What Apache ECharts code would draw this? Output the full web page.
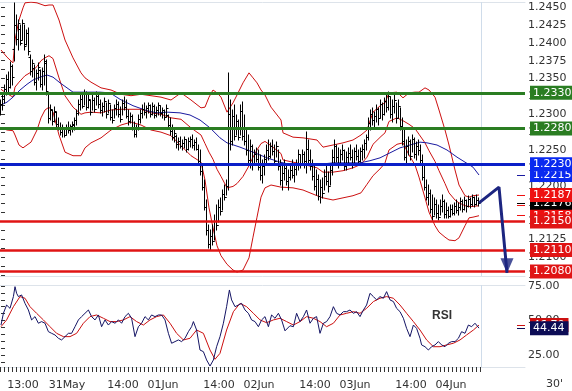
<!DOCTYPE html>
<html><head><meta charset="utf-8">
<script src="https://cdn.jsdelivr.net/npm/echarts@6/dist/echarts.min.js"></script>
<style>html,body{margin:0;padding:0;background:#fff}#c{width:572px;height:391px}</style>
</head><body><div id="c"></div>
<script>
// ---- 30-minute bars (index 0 = 30May 07:30) ----
const barOpen = [1.2302,1.2315,1.2322,1.2335,1.2350,1.2338,1.2368,1.2392,1.2425,1.2405,
1.2420,1.2404,1.2428,1.2398,1.2414,1.2380,1.2360,1.2365,1.2345,1.2358,
1.2362,1.2342,1.2360,1.2372,1.2330,1.2295,1.2306,1.2290,1.2303,1.2286,
1.2281,1.2275,1.2279,1.2271,1.2282,1.2278,1.2283,1.2285,1.2292,1.2302,
1.2315,1.2322,1.2312,1.2328,1.2310,1.2320,1.2303,1.2320,1.2308,1.2326,
1.2314,1.2306,1.2312,1.2318,1.2300,1.2316,1.2296,1.2292,1.2309,1.2314,
1.2300,1.2294,1.2316,1.2310,1.2298,1.2290,1.2297,1.2281,1.2272,1.2280,
1.2294,1.2302,1.2308,1.2303,1.2309,1.2313,1.2300,1.2312,1.2299,1.2306,
1.2313,1.2302,1.2306,1.2296,1.2299,1.2285,1.2276,1.2268,1.2270,1.2258,
1.2262,1.2256,1.2260,1.2265,1.2251,1.2262,1.2266,1.2257,1.2261,1.2252,
1.2234,1.2220,1.2198,1.2170,1.2138,1.2118,1.2130,1.2122,1.2150,1.2145,
1.2170,1.2165,1.2188,1.2184,1.2200,1.2300,1.2262,1.2298,1.2270,1.2290,
1.2268,1.2305,1.2270,1.2262,1.2250,1.2236,1.2255,1.2230,1.2244,1.2238,
1.2226,1.2215,1.2228,1.2238,1.2250,1.2242,1.2255,1.2248,1.2235,1.2255,
1.2228,1.2208,1.2218,1.2225,1.2206,1.2212,1.2222,1.2215,1.2224,1.2230,
1.2244,1.2232,1.2245,1.2234,1.2252,1.2236,1.2228,1.2214,1.2200,1.2210,
1.2186,1.2198,1.2190,1.2214,1.2206,1.2200,1.2222,1.2240,1.2255,1.2240,
1.2230,1.2245,1.2250,1.2228,1.2240,1.2246,1.2240,1.2232,1.2248,1.2242,
1.2235,1.2248,1.2252,1.2260,1.2268,1.2288,1.2300,1.2292,1.2298,1.2308,
1.2295,1.2315,1.2300,1.2318,1.2310,1.2325,1.2300,1.2312,1.2320,1.2295,
1.2312,1.2284,1.2262,1.2240,1.2255,1.2262,1.2242,1.2266,1.2245,1.2256,
1.2250,1.2236,1.2212,1.2198,1.2184,1.2190,1.2168,1.2158,1.2175,1.2162,
1.2156,1.2172,1.2178,1.2160,1.2166,1.2158,1.2168,1.2162,1.2172,1.2166,
1.2170,1.2178,1.2168,1.2180,1.2172,1.2182,1.2174,1.2184,1.2175,1.2180];
const barHigh = [1.2320,1.2327,1.2341,1.2355,1.2359,1.2373,1.2369,1.2456,1.2439,1.2432,
1.2425,1.2432,1.2425,1.2418,1.2421,1.2383,1.2376,1.2369,1.2362,1.2372,
1.2362,1.2365,1.2383,1.2376,1.2330,1.2313,1.2306,1.2310,1.2303,1.2295,
1.2288,1.2285,1.2281,1.2285,1.2289,1.2285,1.2289,1.2295,1.2306,1.2320,
1.2330,1.2327,1.2334,1.2331,1.2327,1.2320,1.2327,1.2323,1.2331,1.2327,
1.2320,1.2316,1.2323,1.2316,1.2320,1.2313,1.2306,1.2313,1.2320,1.2317,
1.2310,1.2320,1.2324,1.2320,1.2306,1.2302,1.2299,1.2289,1.2285,1.2299,
1.2306,1.2313,1.2316,1.2312,1.2316,1.2313,1.2316,1.2313,1.2310,1.2316,
1.2312,1.2309,1.2306,1.2313,1.2299,1.2295,1.2285,1.2278,1.2271,1.2267,
1.2268,1.2264,1.2268,1.2264,1.2267,1.2268,1.2271,1.2264,1.2267,1.2257,
1.2250,1.2229,1.2208,1.2180,1.2145,1.2138,1.2145,1.2159,1.2173,1.2180,
1.2183,1.2194,1.2201,1.2208,1.2358,1.2320,1.2306,1.2313,1.2299,1.2292,
1.2313,1.2317,1.2299,1.2278,1.2271,1.2264,1.2257,1.2250,1.2253,1.2250,
1.2243,1.2236,1.2243,1.2257,1.2264,1.2260,1.2264,1.2257,1.2261,1.2250,
1.2236,1.2229,1.2236,1.2229,1.2222,1.2229,1.2236,1.2229,1.2236,1.2250,
1.2243,1.2250,1.2247,1.2275,1.2264,1.2250,1.2236,1.2229,1.2222,1.2215,
1.2208,1.2211,1.2222,1.2229,1.2219,1.2229,1.2250,1.2264,1.2257,1.2253,
1.2250,1.2257,1.2250,1.2247,1.2253,1.2257,1.2250,1.2253,1.2257,1.2250,
1.2253,1.2257,1.2264,1.2271,1.2295,1.2306,1.2309,1.2303,1.2313,1.2309,
1.2320,1.2316,1.2323,1.2327,1.2331,1.2324,1.2320,1.2327,1.2316,1.2320,
1.2309,1.2295,1.2278,1.2264,1.2268,1.2264,1.2271,1.2267,1.2261,1.2264,
1.2257,1.2243,1.2229,1.2208,1.2201,1.2194,1.2187,1.2183,1.2180,1.2173,
1.2180,1.2187,1.2180,1.2176,1.2170,1.2173,1.2173,1.2176,1.2180,1.2176,
1.2183,1.2180,1.2184,1.2180,1.2186,1.2183,1.2187,1.2184,1.2187,1.2183];
const barLow = [1.2299,1.2306,1.2316,1.2327,1.2331,1.2337,1.2341,1.2375,1.2397,1.2390,
1.2397,1.2404,1.2390,1.2397,1.2383,1.2355,1.2352,1.2341,1.2334,1.2348,
1.2338,1.2334,1.2341,1.2327,1.2288,1.2292,1.2285,1.2289,1.2282,1.2278,
1.2271,1.2268,1.2268,1.2271,1.2274,1.2271,1.2275,1.2278,1.2285,1.2299,
1.2306,1.2309,1.2313,1.2306,1.2309,1.2299,1.2306,1.2303,1.2313,1.2309,
1.2302,1.2298,1.2303,1.2295,1.2302,1.2292,1.2288,1.2295,1.2299,1.2296,
1.2289,1.2299,1.2306,1.2295,1.2285,1.2288,1.2278,1.2268,1.2268,1.2278,
1.2288,1.2295,1.2299,1.2295,1.2302,1.2296,1.2299,1.2295,1.2296,1.2299,
1.2298,1.2295,1.2292,1.2296,1.2281,1.2271,1.2264,1.2261,1.2253,1.2250,
1.2253,1.2250,1.2253,1.2247,1.2250,1.2254,1.2253,1.2250,1.2250,1.2229,
1.2215,1.2194,1.2166,1.2131,1.2113,1.2110,1.2117,1.2124,1.2138,1.2149,
1.2159,1.2166,1.2180,1.2187,1.2194,1.2250,1.2257,1.2264,1.2271,1.2264,
1.2271,1.2264,1.2257,1.2243,1.2229,1.2225,1.2222,1.2229,1.2233,1.2222,
1.2208,1.2204,1.2215,1.2229,1.2236,1.2239,1.2243,1.2229,1.2240,1.2222,
1.2201,1.2194,1.2208,1.2201,1.2194,1.2208,1.2211,1.2205,1.2215,1.2222,
1.2225,1.2229,1.2225,1.2218,1.2229,1.2222,1.2208,1.2194,1.2187,1.2180,
1.2176,1.2183,1.2194,1.2201,1.2191,1.2201,1.2215,1.2229,1.2233,1.2225,
1.2229,1.2236,1.2222,1.2222,1.2229,1.2236,1.2225,1.2232,1.2236,1.2229,
1.2233,1.2236,1.2239,1.2250,1.2264,1.2278,1.2285,1.2281,1.2289,1.2285,
1.2295,1.2292,1.2299,1.2303,1.2306,1.2295,1.2289,1.2302,1.2288,1.2295,
1.2278,1.2257,1.2236,1.2232,1.2243,1.2236,1.2247,1.2239,1.2236,1.2243,
1.2232,1.2208,1.2194,1.2180,1.2173,1.2162,1.2152,1.2159,1.2155,1.2152,
1.2159,1.2163,1.2155,1.2155,1.2155,1.2156,1.2159,1.2159,1.2162,1.2159,
1.2166,1.2163,1.2166,1.2163,1.2170,1.2169,1.2172,1.2170,1.2173,1.2172];
const barClose = [1.2315,1.2322,1.2335,1.2350,1.2338,1.2368,1.2352,1.2425,1.2405,1.2428,
1.2400,1.2428,1.2395,1.2414,1.2388,1.2360,1.2372,1.2345,1.2358,1.2366,
1.2342,1.2360,1.2375,1.2332,1.2295,1.2308,1.2290,1.2305,1.2286,1.2281,
1.2275,1.2280,1.2271,1.2282,1.2278,1.2283,1.2286,1.2292,1.2302,1.2315,
1.2322,1.2312,1.2328,1.2310,1.2322,1.2303,1.2320,1.2308,1.2326,1.2314,
1.2306,1.2312,1.2318,1.2300,1.2316,1.2296,1.2292,1.2309,1.2314,1.2300,
1.2294,1.2316,1.2310,1.2298,1.2290,1.2297,1.2281,1.2272,1.2280,1.2294,
1.2302,1.2308,1.2303,1.2309,1.2313,1.2300,1.2312,1.2299,1.2306,1.2313,
1.2302,1.2306,1.2296,1.2309,1.2285,1.2276,1.2268,1.2274,1.2258,1.2262,
1.2256,1.2260,1.2265,1.2251,1.2262,1.2266,1.2257,1.2261,1.2252,1.2234,
1.2220,1.2198,1.2170,1.2138,1.2118,1.2130,1.2122,1.2150,1.2145,1.2170,
1.2165,1.2188,1.2184,1.2200,1.2300,1.2262,1.2298,1.2270,1.2290,1.2268,
1.2305,1.2270,1.2262,1.2250,1.2236,1.2255,1.2230,1.2244,1.2238,1.2226,
1.2215,1.2228,1.2238,1.2250,1.2242,1.2255,1.2248,1.2235,1.2255,1.2228,
1.2208,1.2218,1.2225,1.2206,1.2212,1.2222,1.2215,1.2224,1.2230,1.2244,
1.2232,1.2245,1.2234,1.2252,1.2236,1.2228,1.2214,1.2200,1.2210,1.2186,
1.2198,1.2190,1.2214,1.2206,1.2200,1.2222,1.2240,1.2255,1.2240,1.2230,
1.2245,1.2250,1.2228,1.2240,1.2246,1.2240,1.2232,1.2248,1.2242,1.2235,
1.2248,1.2252,1.2260,1.2268,1.2288,1.2300,1.2292,1.2298,1.2308,1.2295,
1.2315,1.2300,1.2318,1.2310,1.2325,1.2300,1.2312,1.2320,1.2295,1.2312,
1.2284,1.2262,1.2240,1.2255,1.2262,1.2242,1.2266,1.2245,1.2256,1.2250,
1.2236,1.2212,1.2198,1.2184,1.2190,1.2168,1.2158,1.2175,1.2162,1.2156,
1.2172,1.2178,1.2160,1.2166,1.2158,1.2168,1.2162,1.2172,1.2166,1.2170,
1.2178,1.2168,1.2180,1.2172,1.2182,1.2174,1.2184,1.2175,1.2180,1.2176];

// ---- Bollinger bands & moving average: [bar, price] ----
const bbUpper = [[0,1.2390],[3,1.2380],[6,1.2372],[7,1.2404],[9,1.2432],[11,1.2449],[12,1.2456],[15,1.2457],[18,1.2456],[20,1.2454],[22,1.2452],[24,1.2453],[26,1.2453],[29,1.2432],[32,1.2404],[36,1.2379],[40,1.2358],[42,1.2351],[45,1.2345],[50,1.2337],[55,1.2334],[60,1.2328],[65,1.2326],[70,1.2328],[75,1.2326],[80,1.2324],[85,1.2320],[90,1.2330],[95,1.2320],[100,1.2309],[102,1.2310],[104,1.2324],[106,1.2334],[108,1.2330],[110,1.2324],[113,1.2303],[116,1.2316],[118,1.2327],[121,1.2344],[124,1.2358],[126,1.2351],[128,1.2344],[130,1.2334],[132,1.2327],[135,1.2310],[140,1.2292],[141,1.2274],[146,1.2268],[151,1.2267],[158,1.2264],[161,1.2254],[166,1.2257],[171,1.2260],[176,1.2264],[180,1.2271],[183,1.2278],[186,1.2303],[190,1.2313],[192,1.2316],[194,1.2330],[198,1.2331],[201,1.2323],[204,1.2330],[207,1.2331],[209,1.2331],[212,1.2337],[214,1.2334],[217,1.2324],[219,1.2306],[222,1.2278],[224,1.2257],[227,1.2222],[229,1.2201],[232,1.2186],[234,1.2184],[236,1.2186],[239,1.2187]];
const bbMiddle = [[0,1.2335],[3,1.2329],[6,1.2324],[7,1.2338],[9,1.2345],[11,1.2351],[12,1.2354],[15,1.2359],[18,1.2367],[20,1.2375],[22,1.2379],[24,1.2382],[26,1.2378],[29,1.2351],[32,1.2326],[36,1.2310],[40,1.2300],[42,1.2302],[45,1.2303],[50,1.2302],[55,1.2306],[60,1.2307],[65,1.2307],[70,1.2307],[75,1.2302],[80,1.2300],[85,1.2295],[90,1.2293],[95,1.2281],[100,1.2271],[102,1.2259],[104,1.2247],[106,1.2237],[108,1.2223],[110,1.2213],[113,1.2197],[116,1.2199],[118,1.2203],[121,1.2213],[124,1.2228],[126,1.2240],[128,1.2250],[130,1.2259],[132,1.2262],[135,1.2256],[140,1.2245],[141,1.2236],[146,1.2233],[151,1.2230],[158,1.2225],[161,1.2219],[166,1.2219],[171,1.2221],[176,1.2225],[180,1.2230],[183,1.2240],[186,1.2258],[190,1.2269],[192,1.2274],[194,1.2290],[198,1.2295],[201,1.2291],[204,1.2286],[207,1.2280],[209,1.2272],[212,1.2260],[214,1.2249],[217,1.2234],[219,1.2221],[222,1.2203],[224,1.2190],[227,1.2180],[229,1.2176],[232,1.2172],[234,1.2171],[236,1.2171],[239,1.2172]];
const bbLower = [[0,1.2281],[3,1.2278],[6,1.2277],[7,1.2271],[9,1.2257],[11,1.2253],[12,1.2253],[15,1.2261],[18,1.2278],[20,1.2295],[22,1.2306],[24,1.2310],[26,1.2303],[29,1.2271],[32,1.2247],[36,1.2242],[40,1.2242],[42,1.2253],[45,1.2260],[50,1.2267],[55,1.2278],[60,1.2285],[65,1.2289],[70,1.2285],[75,1.2278],[80,1.2275],[85,1.2270],[90,1.2256],[95,1.2242],[100,1.2233],[102,1.2208],[104,1.2169],[106,1.2141],[108,1.2116],[110,1.2102],[113,1.2090],[116,1.2082],[118,1.2079],[121,1.2082],[124,1.2099],[126,1.2128],[128,1.2156],[130,1.2184],[132,1.2197],[135,1.2201],[140,1.2198],[141,1.2198],[146,1.2197],[151,1.2194],[158,1.2186],[161,1.2183],[166,1.2180],[171,1.2183],[176,1.2186],[180,1.2190],[183,1.2202],[186,1.2214],[190,1.2225],[192,1.2232],[194,1.2250],[198,1.2258],[201,1.2260],[204,1.2243],[207,1.2229],[209,1.2212],[212,1.2183],[214,1.2163],[217,1.2144],[219,1.2135],[222,1.2128],[224,1.2124],[227,1.2123],[229,1.2127],[232,1.2144],[234,1.2155],[236,1.2156],[239,1.2158]];
const maSlow = [[0,1.2313],[3,1.2317],[6,1.2324],[9.5,1.2334],[13,1.2342],[16,1.2348],[19.5,1.2352],[23,1.2355],[26,1.2352],[29.5,1.2344],[33,1.2337],[36,1.2331],[39.5,1.2331],[44.5,1.2331],[49.5,1.2331],[54.5,1.2330],[59.5,1.2321],[66,1.2312],[73,1.2305],[78,1.2302],[83,1.2303],[89.5,1.2302],[94.5,1.2299],[99.5,1.2292],[104.5,1.2281],[109.5,1.2267],[113,1.2260],[119.5,1.2254],[126,1.2247],[133,1.2239],[139.5,1.2233],[146,1.2229],[153,1.2229],[159.5,1.2230],[166,1.2232],[173,1.2232],[179.5,1.2232],[184.5,1.2235],[189.5,1.2239],[194.5,1.2246],[199.5,1.2253],[204.5,1.2257],[209.5,1.2261],[213,1.2260],[218,1.2257],[223,1.2250],[228,1.2240],[232,1.2233],[236,1.2226],[239,1.2215]];

// ---- RSI panel: [bar, value] ----
const rsiLine = [[0,46.7],[1.2,55.2],[2.8,61.2],[4.5,58.8],[6.2,67.3],[7,74.5],[7.8,69.7],[8.7,67.3],[10.3,68.5],[12,62.4],[13.7,57.6],[15.3,50.4],[17,52.8],[18.7,48.0],[20.3,49.2],[22,48.0],[23.7,41.9],[25.3,40.7],[27,39.5],[28.7,37.1],[30.3,35.9],[32,38.3],[33.7,40.7],[35.3,40.7],[37,45.5],[38.7,50.4],[40.3,52.8],[42,55.2],[43.7,57.6],[45.3,52.8],[47,50.4],[48.7,54.0],[50.3,45.5],[52,50.4],[53.7,46.7],[55.3,49.2],[57,48.0],[58.7,50.4],[60.3,48.0],[62,52.8],[63.7,55.2],[65.3,51.6],[67,38.3],[68.7,45.5],[70.3,48.0],[72,52.8],[73.7,50.4],[75.3,54.0],[77,52.8],[78.7,54.0],[80.3,54.0],[82,50.4],[83.7,40.7],[85.3,33.5],[87,34.7],[88.7,35.9],[90.3,34.7],[92,37.1],[93.7,41.9],[95.3,45.5],[96.2,49.2],[97.8,43.1],[99.5,28.6],[101.2,27.4],[102.8,21.4],[104.5,17.0],[106.2,21.4],[107.8,31.0],[109.5,38.3],[111.2,48.0],[112.8,60.0],[114.2,72.1],[115.3,64.9],[117,60.0],[118.7,61.2],[120.3,62.4],[122,57.6],[123.7,55.2],[125.3,50.4],[127,49.2],[128.7,45.5],[130.3,50.4],[132,52.8],[133.7,45.5],[135.3,54.0],[137,51.6],[138.7,55.2],[140.3,50.4],[142,42.5],[144.5,46.2],[146.2,45.5],[147.8,55.2],[149.5,49.2],[151.2,52.8],[152.8,57.6],[154.5,48.0],[156.2,51.6],[157.8,52.8],[159.5,40.7],[161.2,48.0],[162.8,49.2],[164.5,52.8],[166.2,60.0],[167.8,55.2],[169.5,54.0],[171.2,56.4],[172.8,56.4],[174.5,57.6],[176.2,55.2],[177.8,56.4],[179.5,52.8],[181.2,57.6],[182.8,61.2],[184.5,69.7],[186.2,67.3],[187.8,64.9],[189.5,67.3],[191.2,66.1],[192.8,70.9],[194.5,64.9],[196.2,63.7],[197.8,58.8],[199.5,56.4],[201.2,51.6],[202.8,44.3],[204.5,38.3],[206.2,46.7],[207.8,44.3],[209.5,37.1],[210.3,32.3],[212,31.0],[213.7,28.6],[215.3,31.0],[217,32.3],[218.7,34.7],[220.3,32.3],[222,31.0],[223.7,33.5],[225.3,34.7],[227,34.7],[228.7,37.1],[230.3,41.9],[232,40.7],[233.7,46.7],[235.3,45.5],[237,48.0],[238,46.7],[239,44.44]];
const rsiSignal = [[0,45.5],[2.8,50.4],[6.2,60.0],[9.5,67.3],[12,66.1],[14.5,60.0],[17.8,55.2],[21.2,50.4],[24.5,45.5],[27.8,40.7],[31.2,38.3],[34.5,38.3],[37.8,40.7],[41.2,48.0],[44.5,52.8],[47.8,54.0],[51.2,51.6],[54.5,49.2],[57.8,49.2],[61.2,50.4],[64.5,52.8],[67.8,49.2],[71.2,46.7],[74.5,50.4],[77.8,52.8],[81.2,54.0],[84.5,48.0],[87.8,40.7],[91.2,35.9],[94.5,37.1],[97.8,43.1],[101.2,40.7],[104.5,28.6],[107,21.9],[109.5,26.2],[112.8,43.1],[116.2,56.4],[119.5,62.4],[122.8,60.0],[126.2,55.2],[129.5,50.4],[132.8,48.4],[136.2,50.4],[139.5,51.6],[142.8,49.2],[146.2,46.7],[149.5,49.2],[152.8,52.8],[156.2,51.6],[159.5,49.2],[162.8,45.5],[166.2,48.0],[169.5,54.0],[172.8,55.2],[176.2,56.4],[179.5,55.2],[182.8,58.8],[186.2,63.7],[189.5,66.1],[192.8,67.3],[196.2,66.1],[199.5,61.2],[202.8,55.2],[206.2,49.2],[209.5,43.1],[212.8,35.9],[216.2,31.0],[219.5,31.0],[222.8,32.3],[226.2,33.5],[229.5,35.9],[232.8,39.5],[236.2,43.1],[239,46.7]];

// ---- levels, forecast, ticks ----
const levelsGreen = [1.2330, 1.2280];
const levelsBlue = [1.2230];
const levelsRed = [1.2150, 1.2110, 1.2080];
const forecastPath = [[239,1.2176],[249,1.2198],[253,1.2078]];
const priceTicks = [1.2075,1.2100,1.2125,1.2150,1.2175,1.2200,1.2225,1.2250,1.2275,1.2300,1.2325,1.2350,1.2375,1.2400,1.2425,1.2450];
const rsiTicks = [25, 50, 75];
const xTickBars = [11,33,61,81,109,129,157,177,205,225];
const xTickLabels = ["13:00","31May","14:00","01Jun","14:00","02Jun","14:00","03Jun","14:00","04Jun"];

const FONT = 'DejaVu Sans';
const lastBar = barClose.length - 1;
const X_MAX = 262;
const ohlc = barOpen.map((o, i) => [i, o, barHigh[i], barLow[i], barClose[i]]);
const lastOf = a => a[a.length - 1][1];

const priceMinor = []; for (let v = 1.2075; v <= 1.24501; v += 0.00125) priceMinor.push(+v.toFixed(5));
const rsiMinor = []; for (let v = 20; v <= 75; v += 5) rsiMinor.push(v);
const xMinor = []; for (let v = 0; v <= lastBar + 1; v += 2) xMinor.push(v - 0.5);

function boxLabel(bg, text) {
  return { show: true, position: 'end', distance: 5, formatter: text, color: '#fff',
    backgroundColor: bg, padding: [2, 4, 1, 3], fontFamily: FONT, fontSize: 11 };
}
function leader(v, color, text, bg) {
  return [{ coord: [lastBar + 19, v], lineStyle: { color: color, width: 1, type: 'solid' }, label: boxLabel(bg || color, text) },
          { coord: [X_MAX, v] }];
}
function level(v, color, width, bg) {
  return [{ coord: [-0.5, v], lineStyle: { color: color, width: width, type: 'solid' }, label: boxLabel(bg || color, v.toFixed(4)) },
          { coord: [X_MAX, v] }];
}
const mlBase = { symbol: ['none', 'none'], silent: true, animation: false, precision: 6 };

const chart = echarts.init(document.getElementById('c'));
const borderAxis = (grid, pos) => ({ gridIndex: grid, type: 'value', min: -0.5, max: X_MAX, position: pos,
  axisLine: { show: true, lineStyle: { color: '#dde3ea', width: 1 } }, axisTick: { show: false }, axisLabel: { show: false }, splitLine: { show: false } });

chart.setOption({
  animation: false,
  backgroundColor: '#ffffff',
  title: [
    { text: 'RSI', left: 427, top: 305, textStyle: { fontFamily: 'Liberation Sans', fontWeight: 'bold', fontSize: 12, color: '#333' } },
    { text: "30'", left: 541, top: 374, textStyle: { fontFamily: FONT, fontWeight: 'normal', fontSize: 11, color: '#333' } }
  ],
  grid: [
    { left: 0, right: 47, top: 2, height: 274 },
    { left: 0, right: 47, top: 285, height: 82 }
  ],
  xAxis: [
    borderAxis(0, 'bottom'),
    borderAxis(0, 'top'),
    { gridIndex: 1, type: 'value', min: -0.5, max: X_MAX, position: 'bottom',
      axisLine: { show: true, lineStyle: { color: '#dde3ea' } },
      axisTick: { show: true, customValues: xMinor, length: 5, lineStyle: { color: '#333' } },
      axisLabel: { customValues: xTickBars, formatter: v => xTickLabels[xTickBars.indexOf(Math.round(v))] || '',
        color: '#333', fontFamily: FONT, fontSize: 11, margin: 13 },
      splitLine: { show: false } },
    borderAxis(1, 'top')
  ],
  yAxis: [
    { gridIndex: 0, type: 'value', position: 'right', min: 1.20736, max: 1.24572, scale: true,
      axisLine: { show: false },
      axisTick: { show: true, customValues: priceMinor, length: 4, lineStyle: { color: '#333' } },
      axisLabel: { customValues: priceTicks, formatter: v => v.toFixed(4), color: '#333', fontFamily: FONT, fontSize: 11, margin: 3 },
      splitLine: { show: false } },
    { gridIndex: 1, type: 'value', position: 'right', min: 16.3, max: 75.7,
      axisLine: { show: false },
      axisTick: { show: true, customValues: rsiMinor, length: 4, lineStyle: { color: '#333' } },
      axisLabel: { customValues: rsiTicks, formatter: v => v.toFixed(2), color: '#333', fontFamily: FONT, fontSize: 11, margin: 3 },
      splitLine: { show: false } }
  ],
  series: [
    { name: 'upper', type: 'line', xAxisIndex: 0, yAxisIndex: 0, data: bbUpper, showSymbol: false, z: 2,
      lineStyle: { color: '#cc1010', width: 1 } },
    { name: 'middle', type: 'line', xAxisIndex: 0, yAxisIndex: 0, data: bbMiddle, showSymbol: false, z: 2,
      lineStyle: { color: '#cc1010', width: 1 } },
    { name: 'lower', type: 'line', xAxisIndex: 0, yAxisIndex: 0, data: bbLower, showSymbol: false, z: 2,
      lineStyle: { color: '#cc1010', width: 1 } },
    { name: 'ma', type: 'line', xAxisIndex: 0, yAxisIndex: 0, data: maSlow, showSymbol: false, z: 2,
      lineStyle: { color: '#1a1aa0', width: 1 } },
    { name: 'bars', type: 'custom', xAxisIndex: 0, yAxisIndex: 0, data: ohlc, z: 3,
      encode: { x: 0, y: [1, 2, 3, 4] },
      renderItem: function (params, api) {
        const i = api.value(0);
        const o = api.coord([i, api.value(1)]);
        const h = api.coord([i, api.value(2)]);
        const l = api.coord([i, api.value(3)]);
        const c = api.coord([i, api.value(4)]);
        const x = Math.round(h[0]) - 0.5;
        const st = { stroke: '#000', lineWidth: 1 };
        return { type: 'group', children: [
          { type: 'line', shape: { x1: x, y1: Math.round(h[1]) - 0.5, x2: x, y2: Math.round(l[1]) + 0.5 }, style: st },
          { type: 'line', shape: { x1: x - 2, y1: Math.round(o[1]) + 0.5, x2: x, y2: Math.round(o[1]) + 0.5 }, style: st },
          { type: 'line', shape: { x1: x, y1: Math.round(c[1]) + 0.5, x2: x + 2, y2: Math.round(c[1]) + 0.5 }, style: st }
        ] };
      },
      markLine: Object.assign({}, mlBase, {
        data: [[{ coord: [lastBar + 1, 1.20736], lineStyle: { color: '#cfdcea', width: 1, type: 'solid' }, label: { show: false } },
                { coord: [lastBar + 1, 1.24572] }]] })
    },
    // forecast arrow
    { name: 'forecast', type: 'line', xAxisIndex: 0, yAxisIndex: 0, data: forecastPath, showSymbol: false, z: 6,
      lineStyle: { color: '#1c2580', width: 3 } },
    { name: 'arrowhead', type: 'scatter', xAxisIndex: 0, yAxisIndex: 0, data: [forecastPath[forecastPath.length - 1]], z: 7,
      symbol: 'path://M0,0 L12,0 L6,14 Z', symbolSize: [13, 15], symbolOffset: [0, -7], itemStyle: { color: '#1c2580' } },
    // right-hand value tags (ordered for overlap)
    { name: 'tagMiddle', type: 'line', xAxisIndex: 0, yAxisIndex: 0, data: [], z: 8,
      markLine: Object.assign({}, mlBase, { data: [leader(lastOf(bbMiddle), '#ee1111', lastOf(bbMiddle).toFixed(4))] }) },
    { name: 'tagLower', type: 'line', xAxisIndex: 0, yAxisIndex: 0, data: [], z: 8,
      markLine: Object.assign({}, mlBase, { data: [leader(lastOf(bbLower), '#ee1111', lastOf(bbLower).toFixed(4))] }) },
    { name: 'tagClose', type: 'line', xAxisIndex: 0, yAxisIndex: 0, data: [], z: 9,
      markLine: Object.assign({}, mlBase, { data: [leader(barClose[lastBar], '#000000', barClose[lastBar].toFixed(4))] }) },
    { name: 'tagUpper', type: 'line', xAxisIndex: 0, yAxisIndex: 0, data: [], z: 10,
      markLine: Object.assign({}, mlBase, { data: [leader(lastOf(bbUpper), '#ee1111', lastOf(bbUpper).toFixed(4))] }) },
    { name: 'tagMa', type: 'line', xAxisIndex: 0, yAxisIndex: 0, data: [], z: 10,
      markLine: Object.assign({}, mlBase, { data: [leader(lastOf(maSlow), '#1a1aa0', lastOf(maSlow).toFixed(4), '#0a2af0')] }) },
    { name: 'levels', type: 'line', xAxisIndex: 0, yAxisIndex: 0, data: [], z: 11,
      markLine: Object.assign({}, mlBase, { data:
        levelsGreen.map(v => level(v, '#2a7d22', 3))
        .concat(levelsBlue.map(v => level(v, '#0a1fc8', 3, '#0a2af0')))
        .concat(levelsRed.map(v => level(v, '#e01414', 2.5))) }) },
    // RSI panel
    { name: 'rsiSignal', type: 'line', xAxisIndex: 2, yAxisIndex: 1, data: rsiSignal, showSymbol: false, z: 2,
      lineStyle: { color: '#cc1010', width: 1 },
      markLine: Object.assign({}, mlBase, { data: [
        leader(lastOf(rsiSignal), '#cc1010', lastOf(rsiSignal).toFixed(2)),
        [{ coord: [lastBar + 1, 16.3], lineStyle: { color: '#cfdcea', width: 1, type: 'solid' }, label: { show: false } }, { coord: [lastBar + 1, 75.7] }]
      ] }) },
    { name: 'rsi', type: 'line', xAxisIndex: 2, yAxisIndex: 1, data: rsiLine, showSymbol: false, z: 3,
      lineStyle: { color: '#141464', width: 1 },
      markLine: Object.assign({}, mlBase, { data: [leader(lastOf(rsiLine), '#0c0c55', lastOf(rsiLine).toFixed(2))] }) }
  ]
});
</script>
</body></html>
